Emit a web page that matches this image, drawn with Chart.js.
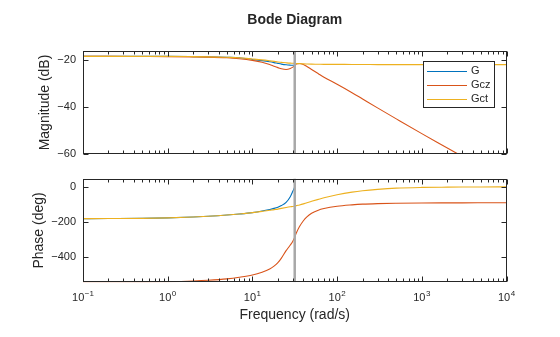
<!DOCTYPE html>
<html>
<head>
<meta charset="utf-8">
<script src="https://cdn.jsdelivr.net/npm/chart.js@4.4.1/dist/chart.umd.min.js"></script>
<style>
  html, body { margin: 0; padding: 0; background: #fff; }
  #page { position: relative; width: 560px; height: 337px; overflow: hidden; }
  .panel { position: absolute; left: 0; width: 560px; }
  #mag-box { top: 0; height: 168px; }
  #phase-box { top: 165px; height: 172px; }
</style>
</head>
<body>
<div id="page">
  <div class="panel" id="mag-box"><canvas id="mag-chart"></canvas></div>
  <div class="panel" id="phase-box"><canvas id="phase-chart"></canvas></div>
</div>
<script>
"use strict";

// Data ----------------------------------------------------------------------
const freqs = [0.1, 0.2, 0.5, 1, 2, 3, 5, 7, 10, 13, 16, 18, 20, 22, 25, 28, 30, 31.6,
  33, 36, 40, 44, 50, 60, 70, 100, 150, 200, 300, 500, 1000, 2000, 3000, 5000, 10000];

const magG = [-18.3, -18.3, -18.3, -18.3, -18.4, -18.5, -18.7, -18.9, -19.6, -20.1, -20.6,
  -20.95, -21.3, -21.6, -21.9, -22.05, -22.1, -22.1,
  null, null, null, null, null, null, null, null, null, null, null, null, null, null, null, null, null];
const magGcz = [-18.3, -18.3, -18.35, -18.4, -18.5, -18.6, -18.9, -19.3, -20.0, -20.8, -21.8,
  -22.5, -23.1, -23.6, -23.9, -23.5, -22.9, -22.2, -21.6, -21.35, -21.8, -22.6, -23.9, -25.7,
  -27.2, -30.2, -33.8, -36.5, -40.3, -45.0, -51.3, -57.4, -61.0, -65.5, -71.5];
const magGct = [-18.3, -18.3, -18.3, -18.3, -18.4, -18.5, -18.7, -18.9, -19.4, -19.8, -20.2,
  -20.45, -20.7, -20.85, -21.05, -21.2, -21.25, -21.3, -21.35, -21.4, -21.5, -21.55, -21.6,
  -21.65, -21.7, -21.7, -21.75, -21.75, -21.8, -21.8, -21.8, -21.8, -21.8, -21.8, -21.8];

const phaseG = [-180, -179.5, -178.5, -176, -171, -167, -160, -154, -146, -137, -128, -122,
  -115, -106, -88, -56, -25, 0,
  null, null, null, null, null, null, null, null, null, null, null, null, null, null, null, null, null];
const phaseGcz = [-540, -540, -539.5, -538, -534, -530, -522, -513, -500, -484, -466, -450,
  -430, -404, -362, -330, -308, -285, -262, -225, -192, -170, -150, -132, -123, -110, -102,
  -98, -95, -93, -91.5, -90.8, -90.5, -90.3, -90];
const phaseGct = [-180, -179.5, -178.5, -176, -171, -167, -160, -154, -146, -139, -133, -129,
  -126, -122, -117, -113, -111, -109, -106.5, -102.5, -96.5, -90, -82, -71, -62, -45, -30,
  -22, -14, -7, -3, -1.5, -1, -0.5, 0];

const resonanceFreq = 31.6;

const freqRange = [0.1, 10000];
const freqTicks = [0.1, 1, 10, 100, 1000, 10000];
const freqTickExps = ["\u22121", "0", "1", "2", "3", "4"];
const magRange = [-60, -16];
const magTicks = [-60, -40, -20];
const phaseRange = [-541.5, 47];
const phaseTicks = [-400, -200, 0];

// Look ----------------------------------------------------------------------
const FONT = '"Liberation Sans", Arial, Helvetica, sans-serif';
const TEXT = "#262626";
const COLORS = { G: "#0072BD", Gcz: "#D95319", Gct: "#EDB120", marker: "#a8a8a8" };
const AXIS_LEFT = 83;
const RIGHT_PAD = 53.5;

Chart.defaults.font.family = FONT;
Chart.defaults.color = TEXT;
Chart.defaults.animation = false;

function points(ys) {
  return freqs.map((f, i) => ({ x: f, y: ys[i] }));
}

function series(label, ys, color, order) {
  return {
    label, data: points(ys), borderColor: color, backgroundColor: color,
    borderWidth: 1.1, pointRadius: 0, cubicInterpolationMode: "monotone",
    spanGaps: false, order, inLegend: true,
  };
}

function marker(range) {
  return {
    label: "", data: [{ x: resonanceFreq, y: range[0] }, { x: resonanceFreq, y: range[1] }],
    borderColor: COLORS.marker, borderWidth: 2.5, pointRadius: 0, order: 0, inLegend: false,
  };
}

function fmtTick(v) {
  return v < 0 ? "\u2212" + Math.abs(v) : String(v);
}

// MATLAB-style box, inner ticks, decade labels, legend ----------------------
const matlabAxes = {
  id: "matlabAxes",
  afterDatasetsDraw(chart, args, opts) {
    const { ctx, chartArea: a, scales } = chart;
    const L = Math.round(a.left) + 0.5, R = Math.round(a.right) - 0.5;
    const T = Math.round(a.top) + 0.5, B = Math.round(a.bottom) - 0.5;
    ctx.save();
    ctx.strokeStyle = TEXT;
    ctx.lineWidth = 1;
    ctx.strokeRect(L, T, R - L, B - T);
    ctx.beginPath();
    for (let d = -1; d <= 4; d++) {
      for (let k = 1; k <= 9; k++) {
        const f = k * Math.pow(10, d);
        if (f > freqRange[1] * 1.0001) break;
        const px = Math.round(scales.x.getPixelForValue(f)) + 0.5;
        const len = k === 1 ? 5 : 3;
        ctx.moveTo(px, T); ctx.lineTo(px, T + len);
        ctx.moveTo(px, B); ctx.lineTo(px, B - len);
      }
    }
    for (const v of opts.yTicks) {
      const py = Math.round(scales.y.getPixelForValue(v)) + 0.5;
      ctx.moveTo(L, py); ctx.lineTo(L + 5, py);
      ctx.moveTo(R, py); ctx.lineTo(R - 5, py);
    }
    ctx.stroke();

    if (opts.decadeLabels) {
      const base = a.bottom + 18.5;
      ctx.fillStyle = TEXT;
      ctx.textAlign = "left";
      ctx.textBaseline = "alphabetic";
      freqTicks.forEach((f, i) => {
        const px = scales.x.getPixelForValue(f);
        const exp = freqTickExps[i];
        ctx.font = `11px ${FONT}`;
        const wb = ctx.measureText("10").width;
        ctx.font = `8px ${FONT}`;
        const we = ctx.measureText(exp).width;
        const x0 = px - (wb + we + 0.5) / 2;
        ctx.font = `11px ${FONT}`;
        ctx.fillText("10", x0, base);
        ctx.font = `8px ${FONT}`;
        ctx.fillText(exp, x0 + wb + 0.5, base - 5);
      });
    }

    if (opts.legend) {
      const box = opts.legend;
      const items = chart.data.datasets.filter((d) => d.inLegend);
      ctx.fillStyle = "#fff";
      ctx.fillRect(box.x, box.y, box.w, box.h);
      ctx.strokeStyle = TEXT;
      ctx.strokeRect(box.x, box.y, box.w, box.h);
      ctx.font = `11px ${FONT}`;
      ctx.textAlign = "left";
      ctx.textBaseline = "middle";
      items.forEach((d, i) => {
        const y = box.y + 9 + i * 14.2;
        ctx.strokeStyle = d.borderColor;
        ctx.beginPath();
        ctx.moveTo(box.x + 3.5, Math.round(y) + 0.5);
        ctx.lineTo(box.x + 43.5, Math.round(y) + 0.5);
        ctx.stroke();
        ctx.fillStyle = TEXT;
        ctx.fillText(d.label, box.x + 47.5, y + 0.5);
      });
    }
    ctx.restore();
  },
};

function yScale(range, ticks, title, titleX) {
  return {
    type: "linear", position: "left", min: range[0], max: range[1],
    afterFit: (s) => { s.width = AXIS_LEFT; },
    afterBuildTicks: (s) => { s.ticks = ticks.map((v) => ({ value: v })); },
    grid: { display: false, drawTicks: false },
    border: { display: false },
    ticks: { padding: 7, color: TEXT, font: { size: 11 }, callback: fmtTick },
    title: { display: true, text: title, color: TEXT, font: { size: 14 },
      padding: { top: titleX - 8.4, bottom: 0 } },
  };
}

// Magnitude panel -------------------------------------------------------------
// (the y labels ask for 13.6px below the plot, so the canvas is 168px tall)
new Chart(document.getElementById("mag-chart"), {
  type: "line",
  data: {
    datasets: [
      series("G", magG, COLORS.G, 3),
      series("Gcz", magGcz, COLORS.Gcz, 2),
      series("Gct", magGct, COLORS.Gct, 1),
      marker(magRange),
    ],
  },
  options: {
    responsive: true,
    maintainAspectRatio: false,
    layout: { padding: { left: 0, right: RIGHT_PAD, top: 0, bottom: 14 } },
    scales: {
      x: { type: "logarithmic", min: freqRange[0], max: freqRange[1], display: false },
      y: yScale(magRange, magTicks, "Magnitude (dB)", 45),
    },
    plugins: {
      legend: { display: false },
      tooltip: { enabled: false },
      title: {
        display: true, text: "Bode Diagram", fullSize: false, color: TEXT,
        font: { size: 14, weight: "bold" }, padding: { top: 11.6, bottom: 22.6 },
      },
      matlabAxes: { yTicks: magTicks, legend: { x: 423.5, y: 61.5, w: 71, h: 46 } },
    },
  },
  plugins: [matlabAxes],
});

// Phase panel -----------------------------------------------------------------
new Chart(document.getElementById("phase-chart"), {
  type: "line",
  data: {
    datasets: [
      series("G", phaseG, COLORS.G, 3),
      series("Gcz", phaseGcz, COLORS.Gcz, 2),
      series("Gct", phaseGct, COLORS.Gct, 1),
      marker(phaseRange),
    ],
  },
  options: {
    responsive: true,
    maintainAspectRatio: false,
    layout: { padding: { left: 0, right: RIGHT_PAD, top: 13.5, bottom: 0 } },
    scales: {
      x: {
        type: "logarithmic", min: freqRange[0], max: freqRange[1],
        afterFit: (s) => { s.height = 54.7; },
        grid: { display: false, drawTicks: false },
        border: { display: false },
        ticks: { display: false },
        title: { display: true, text: "Frequency (rad/s)", color: TEXT, font: { size: 14 },
          padding: { top: 0, bottom: 13.6 } },
      },
      y: yScale(phaseRange, phaseTicks, "Phase (deg)", 39),
    },
    plugins: {
      legend: { display: false },
      tooltip: { enabled: false },
      matlabAxes: { yTicks: phaseTicks, decadeLabels: true },
    },
  },
  plugins: [matlabAxes],
});
</script>
</body>
</html>
